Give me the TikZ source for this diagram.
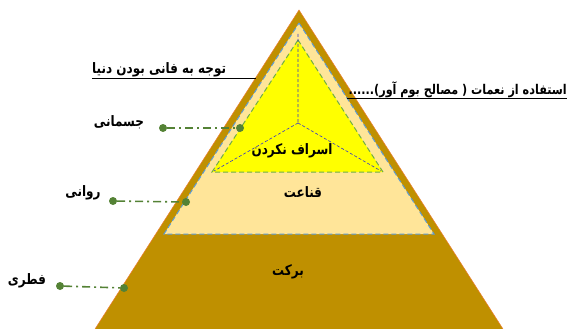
\documentclass[tikz,border=0pt]{standalone}
\usepackage{graphicx}
\usepackage{fontspec}
\TeXXeTstate=1
\newfontfamily\arabicfont[Script=Arabic]{DejaVu Sans}
\newcommand{\artxt}[1]{\scalebox{1}[1.2]{\beginR #1\endR}}
\definecolor{gold}{RGB}{191,144,0}
\definecolor{lighttan}{RGB}{255,229,153}
\definecolor{ylw}{RGB}{255,255,0}
\definecolor{grn}{RGB}{84,130,53}
\definecolor{lgrn}{RGB}{112,173,71}
\definecolor{bluedash}{RGB}{91,155,213}
\definecolor{purp}{RGB}{51,51,204}
\definecolor{edgeor}{RGB}{237,125,49}
\tikzset{
  lbl/.style={inner sep=0pt, font=\arabicfont\bfseries\fontsize{12}{14}\selectfont},
  conn/.style={grn, line width=1.6pt, dash pattern=on 8pt off 4pt on 2pt off 4pt},
  dotc/.style={circle, fill=grn, inner sep=0pt, minimum size=8pt},
  uline/.style={black, line width=0.9pt}
}
\begin{document}
\begin{tikzpicture}[x=1pt,y=-1pt]
\useasboundingbox (0,0) rectangle (570,329);
% outer pyramid
\coordinate (A) at (299,10);
\coordinate (BL) at (95,329);
\coordinate (BR) at (503,329);
\fill[gold] (A)--(BR)--(BL)--cycle;
\draw[edgeor, line width=0.5pt] (BL)--(A)--(BR);
% light region
\coordinate (LA) at (299,23);
\coordinate (LL) at (164,234);
\coordinate (LR) at (434,234);
\filldraw[fill=lighttan, draw=bluedash, line width=1pt, dash pattern=on 5pt off 3pt] (LA)--(LR)--(LL)--cycle;
% yellow triangle
\coordinate (YA) at (298,40);
\coordinate (YL) at (212,172);
\coordinate (YR) at (383,172);
\filldraw[fill=ylw, draw=lgrn, line width=1pt, dash pattern=on 5pt off 3pt] (YA)--(YR)--(YL)--cycle;
% inner dashed lines
\coordinate (PT) at (298,34);
\coordinate (C) at (298,123);
\coordinate (PL) at (214,171);
\coordinate (PR) at (381,171);
\draw[purp, line width=0.6pt, dash pattern=on 3pt off 2pt] (PT)--(C) (C)--(PL) (C)--(PR);
% inner labels
\node[lbl] (t1) at (292,151) {\artxt{اسراف نکردن}};
\node[lbl] (t2) at (303,192) {\artxt{قناعت}};
\node[lbl] (t3) at (288,272) {\artxt{برکت}};
% top labels
\node[lbl, anchor=base west] (t4) at (92,74) {\artxt{توجه به فانی بودن دنیا}};
\coordinate (u1a) at (92,78);
\coordinate (u1b) at (256,78);
\draw[uline] (u1a)--(u1b);
\node[lbl, anchor=base east, font=\arabicfont\bfseries\fontsize{11.2}{14}\selectfont] (t5) at (567,94) {\artxt{استفاده از نعمات ( مصالح بوم آور)......}};
\coordinate (u2a) at (347,98);
\coordinate (u2b) at (567,98);
\draw[uline] (u2a)--(u2b);
% connectors
\node[lbl] (l1) at (119,122) {\artxt{جسمانی}};
\node[dotc] (d1a) at (163,128) {};
\node[dotc] (d1b) at (240,128) {};
\draw[conn] (d1a)--(d1b);
\node[lbl] (l2) at (83,193) {\artxt{روانی}};
\node[dotc] (d2a) at (113,201) {};
\node[dotc] (d2b) at (186,202) {};
\draw[conn] (d2a)--(d2b);
\node[lbl] (l3) at (27,281) {\artxt{فطری}};
\node[dotc] (d3a) at (60,286) {};
\node[dotc] (d3b) at (124,288) {};
\draw[conn] (d3a)--(d3b);
\end{tikzpicture}
\end{document}
